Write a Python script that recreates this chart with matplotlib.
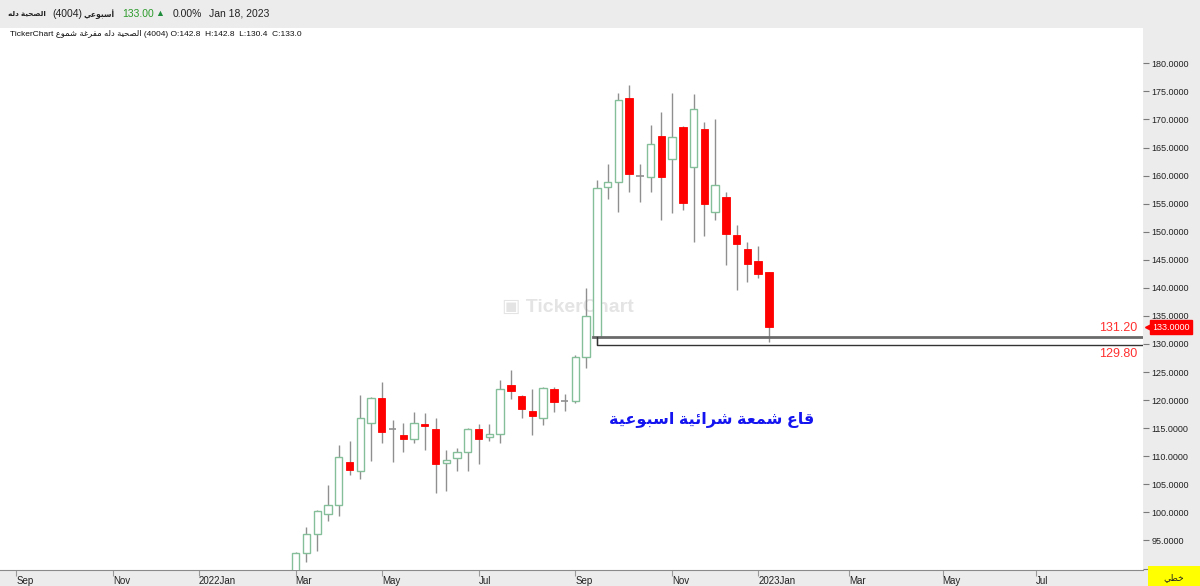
import numpy as np
import matplotlib
matplotlib.use("Agg")
import matplotlib.pyplot as plt
import matplotlib.dates as mdates
import matplotlib.transforms as mtransforms
from matplotlib.patches import Rectangle
from datetime import datetime, timedelta

plt.rcParams['font.family'] = ['Liberation Sans', 'DejaVu Sans']

# weekly candles, Dallah Health (4004)
first_week = datetime(2022, 3, 6)
opens  = [88.5, 92.8, 96.2, 99.8, 101.3, 109.0, 107.4, 115.9, 120.3, 114.8,
          113.7, 113.1, 115.7, 114.9, 108.8, 109.7, 110.8, 114.9, 113.4, 113.9,
          122.7, 120.8, 118.1, 116.9, 121.9, 119.9, 119.9, 127.6, 131.2, 157.9,
          158.9, 173.9, 160.0, 159.7, 167.0, 163.0, 168.6, 161.6, 168.3, 153.5,
          156.1, 149.4, 147.0, 144.8, 142.8]
highs  = [93.0, 97.4, 100.5, 104.9, 112.0, 112.7, 120.9, 120.5, 123.3, 116.5,
          116.0, 117.9, 117.7, 116.8, 111.1, 111.4, 115.0, 115.8, 115.8, 123.6,
          125.4, 121.0, 122.0, 122.4, 122.4, 121.1, 128.0, 139.9, 159.3, 162.0,
          174.7, 176.1, 162.0, 169.0, 171.4, 174.8, 168.8, 174.5, 169.6, 170.1,
          157.0, 151.2, 148.2, 147.4, 142.8]
lows   = [87.0, 91.2, 93.1, 98.5, 99.4, 106.6, 106.0, 109.2, 112.3, 108.9,
          110.8, 112.3, 111.2, 103.5, 103.8, 107.3, 107.4, 108.6, 112.8, 112.3,
          120.2, 116.9, 113.7, 115.6, 117.8, 118.0, 119.5, 125.7, 129.8, 155.8,
          153.6, 157.1, 155.3, 157.0, 152.0, 153.3, 153.9, 148.2, 149.3, 152.1,
          144.1, 139.6, 141.0, 141.8, 130.4]
closes = [92.8, 96.2, 100.3, 101.3, 109.8, 107.5, 116.8, 120.3, 114.3, 114.8,
          113.0, 115.9, 115.4, 108.7, 109.3, 110.7, 114.9, 113.1, 114.0, 121.9,
          121.6, 118.4, 117.1, 122.1, 119.7, 119.9, 127.6, 134.9, 157.8, 158.9,
          173.4, 160.3, 160.0, 165.7, 159.8, 166.8, 155.2, 171.8, 154.9, 158.4,
          149.6, 147.8, 144.3, 142.5, 133.0]

zone_top = 131.20
zone_bottom = 129.80
zone_start = 28          # index of the breakout candle
last_price = 133.00

y_ticks = np.arange(90, 181, 5)
month_ticks = [datetime(2021, 9, 5), datetime(2021, 11, 7), datetime(2022, 1, 2),
               datetime(2022, 3, 6), datetime(2022, 5, 1), datetime(2022, 7, 3),
               datetime(2022, 9, 4), datetime(2022, 11, 6), datetime(2023, 1, 1),
               datetime(2023, 3, 1), datetime(2023, 5, 1), datetime(2023, 7, 1)]
month_labels = ['Sep', 'Nov', '2022Jan', 'Mar', 'May', 'Jul',
                'Sep', 'Nov', '2023Jan', 'Mar', 'May', 'Jul']

# --- tiny arabic shaper (presentation forms) ---
FORMS = {
    'ا': ('\uFE8D', '\uFE8E', None, None),
    'أ': ('\uFE83', '\uFE84', None, None),
    'ب': ('\uFE8F', '\uFE90', '\uFE91', '\uFE92'),
    'ة': ('\uFE93', '\uFE94', None, None),
    'ح': ('\uFEA1', '\uFEA2', '\uFEA3', '\uFEA4'),
    'خ': ('\uFEA5', '\uFEA6', '\uFEA7', '\uFEA8'),
    'د': ('\uFEA9', '\uFEAA', None, None),
    'ر': ('\uFEAD', '\uFEAE', None, None),
    'س': ('\uFEB1', '\uFEB2', '\uFEB3', '\uFEB4'),
    'ش': ('\uFEB5', '\uFEB6', '\uFEB7', '\uFEB8'),
    'ص': ('\uFEB9', '\uFEBA', '\uFEBB', '\uFEBC'),
    'ط': ('\uFEC1', '\uFEC2', '\uFEC3', '\uFEC4'),
    'ع': ('\uFEC9', '\uFECA', '\uFECB', '\uFECC'),
    'غ': ('\uFECD', '\uFECE', '\uFECF', '\uFED0'),
    'ف': ('\uFED1', '\uFED2', '\uFED3', '\uFED4'),
    'ق': ('\uFED5', '\uFED6', '\uFED7', '\uFED8'),
    'ل': ('\uFEDD', '\uFEDE', '\uFEDF', '\uFEE0'),
    'م': ('\uFEE1', '\uFEE2', '\uFEE3', '\uFEE4'),
    'ه': ('\uFEE9', '\uFEEA', '\uFEEB', '\uFEEC'),
    'و': ('\uFEED', '\uFEEE', None, None),
    'ي': ('\uFEF1', '\uFEF2', '\uFEF3', '\uFEF4'),
    'ئ': ('\uFE89', '\uFE8A', '\uFE8B', '\uFE8C'),
}

def shape(word):
    out = []
    for i, ch in enumerate(word):
        f = FORMS[ch]
        jp = i > 0 and FORMS[word[i-1]][2] is not None
        jn = i + 1 < len(word) and f[2] is not None
        if jp and jn:
            out.append(f[3])
        elif jp:
            out.append(f[1])
        elif jn:
            out.append(f[2])
        else:
            out.append(f[0])
    return ''.join(reversed(out))

def rtl(text):
    return ' '.join(shape(w) for w in reversed(text.split()))

def ltr_words(text):
    return ' '.join(shape(w) for w in text.split())

W, H = 1200, 586
fig = plt.figure(figsize=(W/100, H/100), dpi=100, facecolor='#ececec')
ax = fig.add_axes([0, 16/H, 1143/W, (570-28)/H])
ax.set_facecolor('white')

dates = [first_week + timedelta(weeks=i) for i in range(len(closes))]
x = mdates.date2num(dates)
o = np.array(opens); h = np.array(highs); l = np.array(lows); c = np.array(closes)

wick_c = '#8f8f8f'
up_c = '#84bf9a'
dn_c = '#ff0000'
bw = 4.8

ax.vlines(x, l, h, color=wick_c, lw=1.0, zorder=2)
doji = o == c
up = (c > o) & ~doji
dn = (c < o) & ~doji
ax.bar(x[up], c[up]-o[up], bottom=o[up], width=bw, color='white',
       edgecolor=up_c, linewidth=1.0, zorder=3)
ax.bar(x[dn], o[dn]-c[dn], bottom=c[dn], width=bw, color=dn_c,
       edgecolor=dn_c, linewidth=0.6, zorder=3)
ax.hlines(c[doji], x[doji]-bw/2, x[doji]+bw/2, color=wick_c, lw=1.2, zorder=3)

xmin = mdates.date2num(datetime(2021, 8, 25, 12))
xmax = xmin + 744
ax.set_xlim(xmin, xmax)
ax.set_ylim(89.74, 186.29)

# support zone lines
xs = x[zone_start]
ax.plot([xs - bw/2, xmax], [zone_top, zone_top], color='#6a6a6a', lw=2.0, zorder=4)
ax.plot([xs, xs, xmax], [zone_top, zone_bottom, zone_bottom], color='#333333',
        lw=1.0, zorder=4)
ax.annotate(f'{zone_top:.2f}', xy=(0.995, zone_top), xycoords=('axes fraction', 'data'),
            xytext=(0, 2), textcoords='offset points', ha='right', va='bottom',
            color='#ff3030', fontsize=9)
ax.annotate(f'{zone_bottom:.2f}', xy=(0.995, zone_bottom), xycoords=('axes fraction', 'data'),
            xytext=(0, -2), textcoords='offset points', ha='right', va='top',
            color='#ff3030', fontsize=9)

# last price tag
ax.annotate(f'{last_price:.4f}', xy=(1.0, last_price), xycoords=('axes fraction', 'data'),
            xytext=(7, 0), textcoords='offset points', ha='left', va='center',
            color='white', fontsize=6.5, annotation_clip=False,
            bbox=dict(boxstyle='square,pad=0.25', fc='#ff0000', ec='#ff0000'))
tr = mtransforms.blended_transform_factory(ax.transAxes, ax.transData)
ax.plot([1.0055], [last_price], marker='<', ms=6, color='#ff0000', mec='#ff0000',
        transform=tr, clip_on=False, zorder=6)

# watermark + note
ax.text(0.497, 0.485, '\u25A3 TickerChart', transform=ax.transAxes, ha='center',
        va='center', fontsize=14, fontweight='bold', color='#e4e4e4', zorder=0)
ax.text(0.623, 0.277, rtl('قاع شمعة شرائية اسبوعية'), transform=ax.transAxes,
        ha='center', va='center', fontsize=11.5, fontweight='bold', color='#1414f0',
        zorder=5)

# axes styling
for s in ['top', 'left', 'right']:
    ax.spines[s].set_visible(False)
ax.spines['bottom'].set_color('#8a8a8a')
ax.yaxis.tick_right()
ax.set_yticks(y_ticks)
ax.set_yticklabels([f'{v:.4f}' for v in y_ticks])
ax.tick_params(axis='y', direction='out', length=4, width=0.8, color='#7a7a7a',
               labelsize=6.5, labelcolor='#222222', pad=2)
ax.set_xticks(mdates.date2num(month_ticks))
ax.set_xticklabels(month_labels)
ax.tick_params(axis='x', direction='out', length=4, width=0.8, color='#9a9a9a',
               labelsize=7, labelcolor='#222222', pad=0)
for lab in ax.get_xticklabels():
    lab.set_ha('left')

# header
def ftext(px, py, s, **kw):
    fig.text(px/W, 1 - py/H, s, va='center', ha='left', **kw)

ftext(8, 14, ltr_words('دله الصحية'), fontsize=5.2, color='#222222', fontweight='bold')
ftext(52, 14, '(4004)', fontsize=7.5, color='#222222')
ftext(83, 14, shape('أسبوعي'), fontsize=5.5, color='#222222', fontweight='bold')
ftext(122, 14, '133.00', fontsize=7.5, color='#2a9a2a')
ftext(155, 14, '\u25B2', fontsize=6.5, color='#1e8c3a')
ftext(173, 14, '0.00%', fontsize=7.5, color='#222222')
ftext(209, 14, 'Jan 18, 2023', fontsize=7.5, color='#222222')
ftext(10, 34, 'TickerChart ' + ltr_words('شموع مفرغة') + ' ' + ltr_words('دله الصحية')
      + ' (4004) O:142.8  H:142.8  L:130.4  C:133.0', fontsize=6, color='#111111')

# chart type box
fig.patches.append(Rectangle((1148/W, 0), 52/W, 20/H, transform=fig.transFigure,
                             fc='#ffff00', ec='none', zorder=10))
fig.text(1174/W, 8/H, shape('خطي'), ha='center', va='center', fontsize=6.5,
         color='#222222', zorder=11)

fig.savefig('out.png', dpi=100, facecolor=fig.get_facecolor())
